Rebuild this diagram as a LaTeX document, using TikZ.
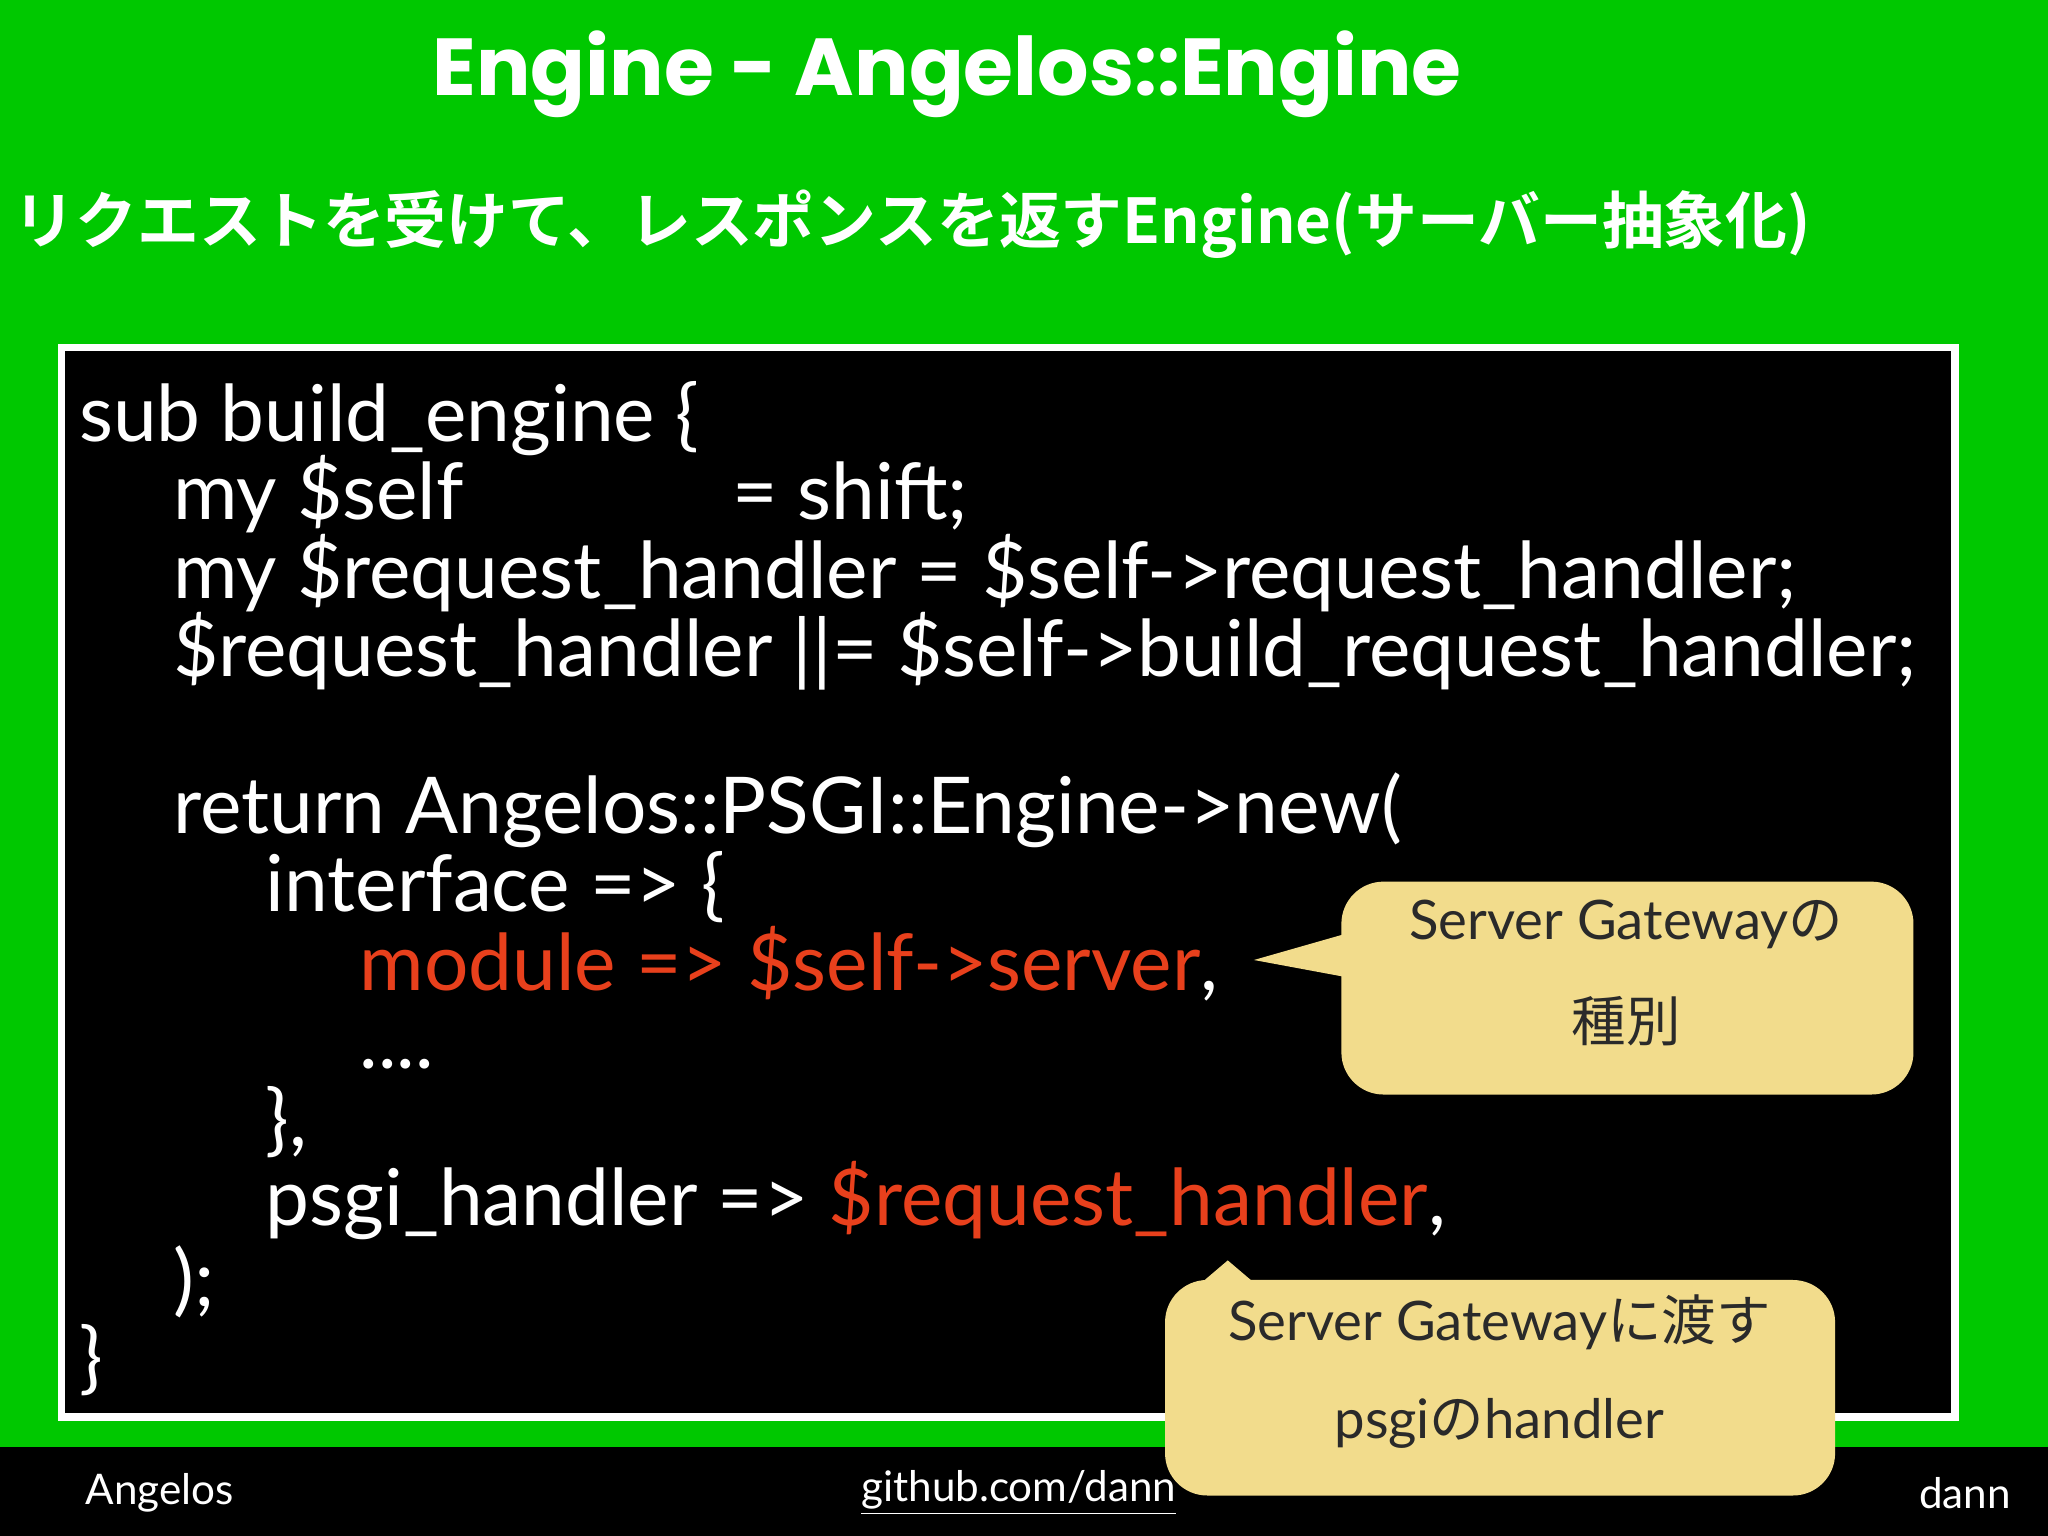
\documentclass[tikz,border=0pt]{standalone}
\usepackage{fontspec}
\setmainfont{Lato}
\newfontfamily\jp{Noto Sans CJK JP}
\newfontfamily\jpb{Noto Sans CJK JP Bold}
\newfontfamily\ttl{Poppins}
\definecolor{bggreen}{HTML}{00C800}
\definecolor{codered}{HTML}{E8401C}
\definecolor{callout}{HTML}{F2DC8C}
\definecolor{calltext}{HTML}{2A2A2A}
\tikzset{
 code/.style={anchor=base west,text=white,font=\fontsize{22.3}{24}\selectfont,inner sep=0pt},
 calltxt/.style={text=calltext,font=\fontsize{15.5}{17}\selectfont,inner sep=0pt},
 callbox/.style={fill=callout,rounded corners=12},
 foot/.style={text=white,font=\fontsize{12}{14}\selectfont,inner sep=0pt}
}
\begin{document}
\begin{tikzpicture}[x=0.013061cm,y=-0.013061cm]
\useasboundingbox (0,0) rectangle (1568,1176);
\fill[bggreen] (0,0) rectangle (1568,1176);
\fill[black] (0,1108) rectangle (1568,1176);
\node[text=white,font=\ttl\bfseries\fontsize{23}{27}\selectfont] (title) at (725,57) {Engine - Angelos::Engine};
\node[anchor=west,text=white,font=\jpb\fontsize{17.6}{20}\selectfont,inner sep=0pt] (sub) at (10,172) {リクエストを受けて、レスポンスを返すEngine(サーバー抽象化)};
\draw[white,line width=2.2pt,fill=black] (47,266) rectangle (1497,1085);
\node[code] (l1) at (60,338) {sub build\_engine \{};
\node[code] (l2) at (132,398) {my \$self};
\node[code] (l2b) at (560,398) {= shift;};
\node[code] (l3) at (132,458) {my \$request\_handler = \$self->request\_handler;};
\node[code] (l4) at (132,518) {\$request\_handler ||= \$self->build\_request\_handler;};
\node[code] (l5) at (132,638) {return Angelos::PSGI::Engine->new(};
\node[code] (l6) at (203,698) {interface => \{};
\node[code] (l7) at (275,758) {\textcolor{codered}{module => \$self->server},};
\node[code] (l8) at (275,818) {....};
\node[code] (l9) at (203,878) {\},};
\node[code] (l10) at (203,938) {psgi\_handler => \textcolor{codered}{\$request\_handler},};
\node[code] (l11) at (132,1000) {);};
\node[code] (l12) at (60,1060) {\}};
% callout 1
\fill[callout] (1030,715) -- (960,735) -- (1030,748) -- cycle;
\fill[callbox] (1027,675) rectangle (1465,838);
\node[calltxt] (c1a) at (1245,708) {Server Gateway{\jp の}};
\node[calltxt] (c1b) at (1245,782) {\jp 種別};
% callout 2
\fill[callout] (920,982) -- (940,965) -- (960,982) -- cycle;
\fill[callbox] (892,980) rectangle (1405,1145);
\node[calltxt] (c2a) at (1148,1012) {Server Gateway{\jp に渡す}};
\node[calltxt] (c2b) at (1148,1090) {psgi{\jp の}handler};
% footer
\node[foot,anchor=west] (f1) at (65,1143) {Angelos};
\node[foot] (f2) at (780,1143) {\underline{github.com/dann}};
\node[foot,anchor=east] (f3) at (1540,1143) {dann};
\end{tikzpicture}
\end{document}
